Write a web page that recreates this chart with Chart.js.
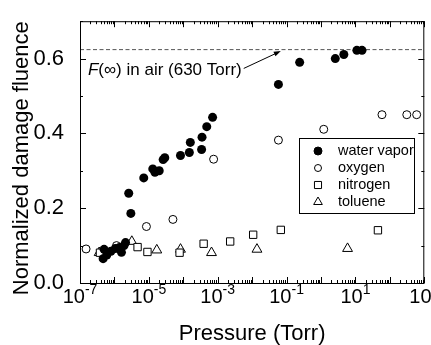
<!DOCTYPE html>
<html>
<head>
<meta charset="utf-8">
<script src="https://cdn.jsdelivr.net/npm/chart.js@4.4.1/dist/chart.umd.min.js"></script>
<style>
  html, body { margin: 0; padding: 0; background: #fff; }
  canvas { display: block; }
</style>
</head>
<body>
<canvas id="mychart" width="431" height="345"></canvas>
<script>
const FONT = "'Liberation Sans', Arial, sans-serif";

// pressure (Torr) and normalized damage fluence
const waterP = [4.7e-7, 5.0e-7, 6.0e-7, 7.9e-7, 1.05e-6, 1.4e-6, 1.6e-6, 1.9e-6, 2.1e-6, 2.6e-6, 3.0e-6, 7.1e-6, 1.3e-5, 1.5e-5, 2.0e-5, 2.6e-5, 2.9e-5, 8.3e-5, 1.5e-4, 1.6e-4, 3.4e-4, 3.5e-4, 4.8e-4, 7.1e-4, 0.058, 0.24, 2.6, 4.6, 11, 15.5];
const waterF = [0.065, 0.090, 0.075, 0.085, 0.092, 0.095, 0.082, 0.100, 0.108, 0.240, 0.186, 0.281, 0.305, 0.296, 0.300, 0.330, 0.335, 0.341, 0.349, 0.376, 0.357, 0.390, 0.418, 0.443, 0.531, 0.590, 0.600, 0.611, 0.622, 0.622];

const oxyP = [1.5e-7, 1.15e-6, 8.5e-6, 5.0e-5, 7.6e-4, 0.058, 1.2, 59, 310, 600];
const oxyF = [0.091, 0.100, 0.151, 0.170, 0.331, 0.382, 0.411, 0.450, 0.450, 0.450];

const nitP = [3.8e-7, 4.7e-6, 9.1e-6, 7.8e-5, 3.9e-4, 2.3e-3, 0.0107, 0.068, 45];
const nitF = [0.081, 0.096, 0.083, 0.081, 0.105, 0.111, 0.129, 0.142, 0.141];

const tolP = [3.6e-7, 3.2e-6, 1.7e-5, 8.3e-5, 6.6e-4, 0.0138, 5.9];
const tolF = [0.081, 0.111, 0.088, 0.090, 0.081, 0.090, 0.092];

// F(inf) measured in air, and where the annotation sits
const airF = 0.624;
const airLabelP = 1.7e-7, airLabelF = 0.555;
const arrowP = 0.068, arrowF = 0.620;

// x axis range and labelled decades
const xMin = 1e-7, xMax = 1e3;
const xLabelExp = [-7, -5, -3, -1, 1, 3];

const pts = (xs, ys) => xs.map((v, i) => ({x: v, y: ys[i]}));

const frame = {
    id: 'frame',
    afterDraw(chart) {
        const {ctx, chartArea: a, scales: {x, y}} = chart;
        ctx.save();
        ctx.strokeStyle = '#000';
        ctx.fillStyle = '#000';
        ctx.lineWidth = 1;
        ctx.strokeRect(a.left + 0.5, a.top + 0.5, a.right - a.left - 1, a.bottom - a.top);

        // inward ticks on all four sides
        ctx.beginPath();
        for (let e = -7; e <= 3; e++) {
            for (let k = 1; k <= 9; k++) {
                if (e === 3 && k > 1) break;
                const px = Math.round(x.getPixelForValue(k * Math.pow(10, e))) + 0.5;
                const len = k === 1 ? 6 : 3;
                ctx.moveTo(px, a.bottom); ctx.lineTo(px, a.bottom - len);
                ctx.moveTo(px, a.top); ctx.lineTo(px, a.top + len);
            }
        }
        for (let i = 0; i <= 7; i++) {
            const py = Math.round(y.getPixelForValue(i / 10)) + 0.5;
            const len = i % 2 === 0 ? 6 : 3;
            ctx.moveTo(a.left, py); ctx.lineTo(a.left + len, py);
            ctx.moveTo(a.right, py); ctx.lineTo(a.right - len, py);
        }
        ctx.stroke();

        // x tick labels: 10 with superscript exponent
        ctx.textBaseline = 'alphabetic';
        ctx.textAlign = 'left';
        xLabelExp.forEach(e => {
            const px = x.getPixelForValue(Math.pow(10, e));
            const ex = e < 0 ? '-' + (-e) : String(e);
            ctx.font = `20px ${FONT}`;
            const w1 = ctx.measureText('10').width;
            ctx.font = `14px ${FONT}`;
            const w2 = ctx.measureText(ex).width;
            const x0 = px - (w1 + w2) / 2;
            ctx.font = `20px ${FONT}`;
            ctx.fillText('10', x0, a.bottom + 20);
            ctx.font = `14px ${FONT}`;
            ctx.fillText(ex, x0 + w1, a.bottom + 11);
        });

        // annotation for air value
        const tx = x.getPixelForValue(airLabelP), ty = y.getPixelForValue(airLabelF);
        ctx.font = `italic 17px ${FONT}`;
        ctx.fillText('F', tx, ty);
        const wf = ctx.measureText('F').width;
        ctx.font = `17px ${FONT}`;
        const rest = '(\u221E) in air (630 Torr)';
        ctx.fillText(rest, tx + wf, ty);
        const x1 = tx + wf + ctx.measureText(rest).width + 2, y1 = ty - 7;
        const x2 = x.getPixelForValue(arrowP), y2 = y.getPixelForValue(arrowF);
        const ang = Math.atan2(y2 - y1, x2 - x1);
        ctx.beginPath();
        ctx.moveTo(x1, y1);
        ctx.lineTo(x2 - 5 * Math.cos(ang), y2 - 5 * Math.sin(ang));
        ctx.stroke();
        ctx.beginPath();
        ctx.moveTo(x2, y2);
        ctx.lineTo(x2 - 7 * Math.cos(ang) + 2.5 * Math.sin(ang), y2 - 7 * Math.sin(ang) - 2.5 * Math.cos(ang));
        ctx.lineTo(x2 - 7 * Math.cos(ang) - 2.5 * Math.sin(ang), y2 - 7 * Math.sin(ang) + 2.5 * Math.cos(ang));
        ctx.closePath();
        ctx.fill();

        // legend box
        const bx = 299, by = 138, bw = 115, bh = 75;
        ctx.fillStyle = '#fff';
        ctx.fillRect(bx, by, bw, bh);
        ctx.strokeRect(bx + 0.5, by + 0.5, bw, bh);
        ctx.save();
        ctx.beginPath();
        ctx.rect(bx, by, bw, bh);
        ctx.clip();
        chart.data.datasets.filter(d => d.inLegend).forEach((d, i) => {
            const cy = by + 13 + i * 17;
            ctx.fillStyle = d.backgroundColor;
            ctx.strokeStyle = '#000';
            ctx.lineWidth = 1;
            Chart.helpers.drawPoint(ctx, {pointStyle: d.pointStyle, radius: d.legendRadius, borderWidth: 1, rotation: 0}, bx + 19, cy);
            ctx.fillStyle = '#000';
            ctx.font = `14.5px ${FONT}`;
            ctx.textBaseline = 'middle';
            ctx.fillText(d.label, bx + 39, cy);
        });
        ctx.restore();
        ctx.restore();
    }
};

const ctx = document.getElementById('mychart');
const chart = new Chart(ctx, {
    type: 'scatter',
    data: {
        datasets: [{
            label: 'water vapor',
            data: pts(waterP, waterF),
            pointStyle: 'circle',
            pointRadius: 4.5,
            legendRadius: 4,
            backgroundColor: '#000',
            borderColor: '#000',
            borderWidth: 0,
            inLegend: true,
            order: 0
        }, {
            label: 'oxygen',
            data: pts(oxyP, oxyF),
            pointStyle: 'circle',
            pointRadius: 4,
            legendRadius: 3.5,
            backgroundColor: '#fff',
            borderColor: '#000',
            borderWidth: 1,
            inLegend: true,
            order: 1
        }, {
            label: 'nitrogen',
            data: pts(nitP, nitF),
            pointStyle: 'rect',
            pointRadius: 5.2,
            legendRadius: 5,
            backgroundColor: '#fff',
            borderColor: '#000',
            borderWidth: 1,
            inLegend: true,
            order: 1
        }, {
            label: 'toluene',
            data: pts(tolP, tolF),
            pointStyle: 'triangle',
            pointRadius: 5.7,
            legendRadius: 5,
            backgroundColor: '#fff',
            borderColor: '#000',
            borderWidth: 1,
            inLegend: true,
            order: 1
        }, {
            type: 'line',
            label: 'air',
            data: [{x: xMin, y: airF}, {x: xMax, y: airF}],
            borderColor: '#555',
            borderWidth: 1,
            borderDash: [4, 2.5],
            pointRadius: 0,
            order: 5
        }]
    },
    options: {
        responsive: false,
        animation: false,
        events: [],
        layout: {
            padding: {top: 9, right: 5, left: 0, bottom: 0}
        },
        plugins: {
            legend: {display: false},
            tooltip: {enabled: false}
        },
        scales: {
            x: {
                type: 'logarithmic',
                min: xMin,
                max: xMax,
                grid: {display: false},
                border: {display: false},
                ticks: {display: false},
                title: {
                    display: true,
                    text: 'Pressure (Torr)',
                    color: '#000',
                    padding: 0,
                    font: {family: FONT, size: 22, lineHeight: 1}
                },
                afterFit: (scale) => { scale.height = 62; }
            },
            y: {
                min: 0,
                max: 0.7,
                grid: {display: false},
                border: {display: false},
                ticks: {
                    stepSize: 0.1,
                    padding: 8,
                    color: '#000',
                    font: {family: FONT, size: 22},
                    callback: (v) => (Math.round(v * 10) % 2 === 0 ? v.toFixed(1) : '')
                },
                title: {
                    display: true,
                    text: 'Normalized damage fluence  ',
                    color: '#000',
                    padding: {top: 11, bottom: 0},
                    font: {family: FONT, size: 22, lineHeight: 1}
                },
                afterFit: (scale) => { scale.width = 80; }
            }
        }
    },
    plugins: [frame]
});
</script>
</body>
</html>
